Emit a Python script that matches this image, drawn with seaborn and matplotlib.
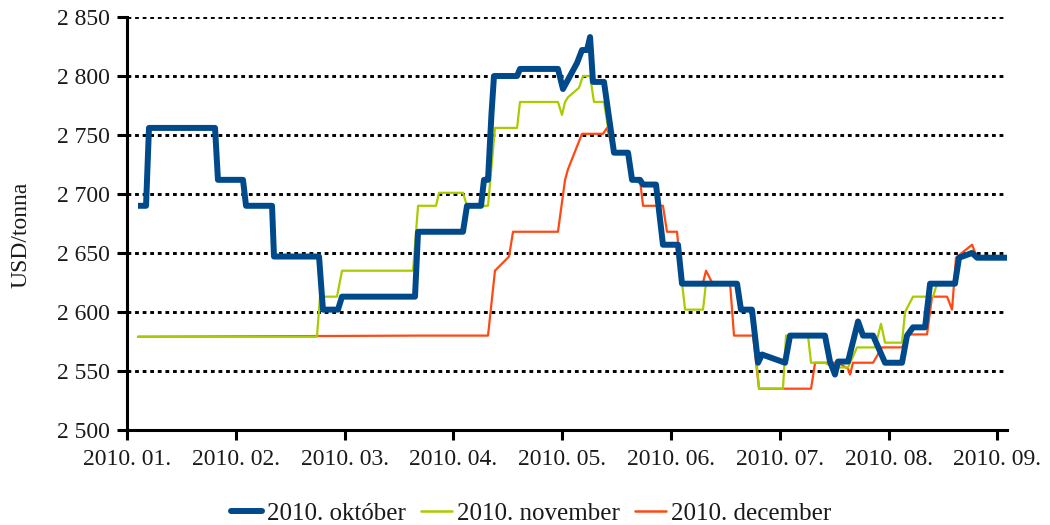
import matplotlib
matplotlib.use("Agg")
import matplotlib.pyplot as plt
import seaborn as sns
import pandas as pd
from matplotlib.lines import Line2D

# ---- data (x = position in months from 2010. 01.) ----
okt_x = [0.101, 0.175, 0.202, 0.809, 0.836, 1.066, 1.094, 1.333, 1.351, 1.765,
         1.801, 1.939, 1.976, 2.647, 2.675, 3.088, 3.125, 3.254, 3.281, 3.318,
         3.350, 3.373, 3.585, 3.612, 3.961, 4.007, 4.136, 4.182, 4.228, 4.256,
         4.283, 4.384, 4.476, 4.605, 4.642, 4.715, 4.743, 4.862, 4.926, 5.064,
         5.101, 5.607, 5.643, 5.744, 5.800, 5.836, 6.048, 6.094, 6.415, 6.461,
         6.507, 6.535, 6.627, 6.719, 6.765, 6.857, 6.967, 7.123, 7.169, 7.224,
         7.335, 7.381, 7.610, 7.647, 7.767, 7.813, 8.088]
okt_y = [2690, 2690, 2756, 2756, 2712, 2712, 2690, 2690, 2647, 2647,
         2602, 2602, 2613, 2613, 2668, 2668, 2690, 2690, 2712, 2712,
         2768, 2800, 2800, 2806, 2806, 2789, 2811, 2822, 2822, 2833,
         2795, 2795, 2735, 2735, 2712, 2712, 2708, 2708, 2657, 2657,
         2624, 2624, 2602, 2602, 2557, 2564, 2557, 2580, 2580, 2558,
         2547, 2558, 2558, 2592, 2580, 2580, 2557, 2557, 2580, 2587,
         2587, 2624, 2624, 2646, 2650, 2646, 2646]

nov_x = [0.101, 1.746, 1.774, 1.930, 1.976, 2.629, 2.675, 2.840, 2.868, 3.088,
         3.125, 3.318, 3.382, 3.585, 3.612, 3.961, 3.998, 4.026, 4.053, 4.154,
         4.191, 4.256, 4.292, 4.384, 4.421, 4.476, 4.605, 4.642, 4.743, 4.862,
         4.926, 5.064, 5.101, 5.129, 5.294, 5.322, 5.607, 5.643, 5.744, 5.809,
         6.029, 6.057, 6.259, 6.287, 6.415, 6.489, 6.627, 6.710, 6.875, 6.930,
         6.967, 7.123, 7.151, 7.224, 7.408, 7.445, 7.610, 7.647, 7.767, 7.813,
         8.088]
nov_y = [2579, 2579, 2613, 2613, 2635, 2635, 2690, 2690, 2701, 2701,
         2690, 2690, 2756, 2756, 2778, 2778, 2767, 2778, 2782, 2790,
         2800, 2800, 2778, 2778, 2756, 2735, 2735, 2712, 2708, 2708,
         2657, 2657, 2625, 2602, 2602, 2625, 2625, 2602, 2602, 2535,
         2535, 2580, 2580, 2557, 2557, 2553, 2553, 2570, 2570, 2590,
         2574, 2574, 2600, 2613, 2613, 2624, 2624, 2646, 2652, 2646,
         2646]

dec_x = [0.101, 2.693, 3.318, 3.382, 3.511, 3.548, 3.961, 4.026, 4.053, 4.182,
         4.375, 4.412, 4.476, 4.605, 4.642, 4.715, 4.743, 4.926, 4.963, 5.055,
         5.101, 5.294, 5.322, 5.377, 5.542, 5.579, 5.754, 5.809, 6.287, 6.324,
         6.535, 6.627, 6.645, 6.673, 6.857, 6.939, 7.123, 7.178, 7.353, 7.399,
         7.537, 7.583, 7.619, 7.767, 7.813, 8.088]
dec_y = [2579, 2580, 2580, 2635, 2647, 2668, 2668, 2712, 2721, 2751,
         2751, 2756, 2735, 2735, 2712, 2712, 2690, 2690, 2668, 2668,
         2625, 2625, 2635, 2625, 2625, 2580, 2580, 2535, 2535, 2557,
         2557, 2552, 2547, 2557, 2557, 2570, 2570, 2581, 2581, 2613,
         2613, 2602, 2646, 2657, 2646, 2646]

series_names = ["2010. október", "2010. november", "2010. december"]
month_labels = ["2010. 01.", "2010. 02.", "2010. 03.", "2010. 04.", "2010. 05.",
                "2010. 06.", "2010. 07.", "2010. 08.", "2010. 09."]
y_ticks = [2500, 2550, 2600, 2650, 2700, 2750, 2800, 2850]
y_label = "USD/tonna"

# ---- style ----
sns.set_style("white")
plt.rcParams["font.family"] = ["Liberation Serif", "DejaVu Serif"]
BLUE, GREEN, RED = "#004A8C", "#A9CC00", "#FF4814"
TXT = "#1a1a1a"
FS = 17

fig = plt.figure(figsize=(10.5, 5.25), dpi=100)
ax = fig.add_axes([127 / 1050, 95 / 525, 880 / 1050, 413 / 525])

sns.lineplot(x=dec_x, y=dec_y, ax=ax, color=RED, linewidth=1.6,
             estimator=None, sort=False, zorder=3)
sns.lineplot(x=nov_x, y=nov_y, ax=ax, color=GREEN, linewidth=1.6,
             estimator=None, sort=False, zorder=4)
sns.lineplot(x=okt_x, y=okt_y, ax=ax, color=BLUE, linewidth=4.3,
             estimator=None, sort=False, zorder=5,
             solid_joinstyle="round", solid_capstyle="butt")

ax.set_xlim(0, 8.088)
ax.set_ylim(2500, 2850)

ax.set_yticks(y_ticks)
ax.set_yticklabels([f"{v:,}".replace(",", " ") for v in y_ticks])
ax.set_xticks(range(len(month_labels)))
ax.set_xticklabels(month_labels)

ax.tick_params(axis="both", labelsize=FS, labelcolor=TXT, color="black",
               width=2.2, length=7, direction="out")
ax.tick_params(axis="x", pad=7)
ax.tick_params(axis="y", pad=5)
ax.tick_params(left=True, bottom=True)

for s in ["top", "right"]:
    ax.spines[s].set_visible(False)
for s in ["left", "bottom"]:
    ax.spines[s].set_color("black")
    ax.spines[s].set_linewidth(2.2)
    ax.spines[s].set_zorder(6)

ax.yaxis.grid(True, color="black", linewidth=2.1, linestyle=(0, (1.3, 1.3)))
ax.xaxis.grid(False)
ax.set_axisbelow(True)

ax.set_xlabel("")
ax.set_ylabel(y_label, fontsize=FS, color=TXT)
ax.yaxis.set_label_coords(-0.108, 0.472)

handles = [Line2D([], [], color=BLUE, linewidth=4.3),
           Line2D([], [], color=GREEN, linewidth=1.8),
           Line2D([], [], color=RED, linewidth=1.8)]
leg = fig.legend(handles, series_names, loc="center",
                 bbox_to_anchor=(531 / 1050, 0.021), ncol=3, frameon=False,
                 fontsize=18, handlelength=1.25, handletextpad=0.2,
                 columnspacing=0.6, borderaxespad=0)
for t in leg.get_texts():
    t.set_color(TXT)

fig.savefig("out.png", dpi=100)
